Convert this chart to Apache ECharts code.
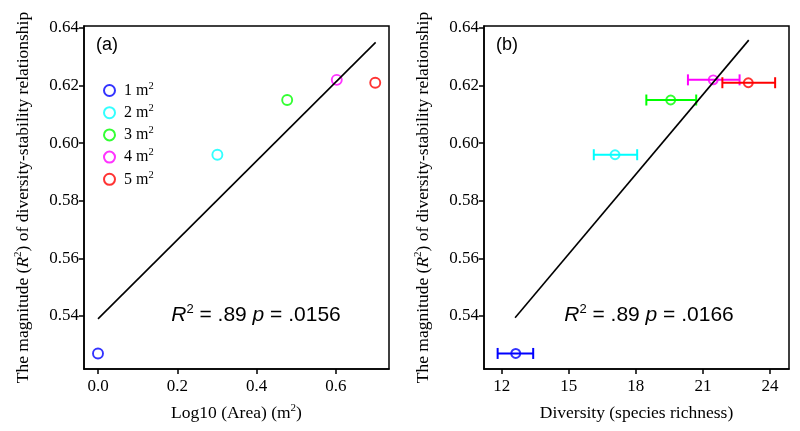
<!DOCTYPE html>
<html>
<head>
<meta charset="utf-8">
<script src="https://cdn.jsdelivr.net/npm/echarts@6/dist/echarts.min.js"></script>
<style>html,body{margin:0;padding:0;background:#fff}#c{width:800px;height:431px}</style>
</head>
<body>
<div id="c"></div>
<script>
// ---- data ----
var groupNames = ['1 m2', '2 m2', '3 m2', '4 m2', '5 m2'];
var groupColors = ['#0000ff', '#00ffff', '#00ff00', '#ff00ff', '#ff0000'];
// Panel (a): log10(area) vs R2 magnitude
var logArea = [0, 0.301, 0.477, 0.602, 0.699];
var magnitudeA = [0.527, 0.596, 0.615, 0.622, 0.621];
var fitA = [[0, 0.539], [0.7, 0.635]];
// Panel (b): diversity vs R2 magnitude
var diversity = [12.63, 17.07, 19.56, 21.46, 23.03];
var diversityLo = [11.82, 16.12, 18.47, 20.33, 21.87];
var diversityHi = [13.41, 18.06, 20.70, 22.64, 24.23];
var magnitudeB = [0.527, 0.596, 0.615, 0.622, 0.621];
var fitB = [[12.6, 0.5394], [23.05, 0.6358]];
// ticks
var xTicksA = [0, 0.2, 0.4, 0.6];
var xTicksB = [12, 15, 18, 21, 24];
var yTicks = [0.54, 0.56, 0.58, 0.60, 0.62, 0.64];
var statA = ['.89', '.0156'];
var statB = ['.89', '.0166'];

var SERIF = '"Liberation Serif", "Times New Roman", serif';
var SANS = '"Liberation Sans", Arial, sans-serif';

var chart = echarts.init(document.getElementById('c'), null, {renderer: 'canvas'});

function supRich(size) {
  return {
    a: {fontFamily: SERIF, fontSize: size, color: '#000', lineHeight: size + 4},
    i: {fontFamily: SERIF, fontSize: size, fontStyle: 'italic', color: '#000', lineHeight: size + 4},
    s: {fontFamily: SERIF, fontSize: Math.round(size * 0.62), color: '#000', verticalAlign: 'top'}
  };
}

function makeX(idx, min, max, ticks, name, fmt) {
  return {
    type: 'value', gridIndex: idx, min: min, max: max,
    name: name, nameLocation: 'middle', nameGap: 34,
    nameTextStyle: {fontFamily: SERIF, fontSize: 17.5, color: '#000', rich: supRich(17.5)},
    axisLine: {show: true, onZero: false, lineStyle: {color: '#000', width: 1.5}},
    axisTick: {show: true, customValues: ticks, length: 5, lineStyle: {color: '#000', width: 1.5}},
    axisLabel: {customValues: ticks, formatter: fmt, fontFamily: SERIF, fontSize: 17, color: '#000', margin: 9},
    splitLine: {show: false}
  };
}
function makeY(idx) {
  return {
    type: 'value', gridIndex: idx, min: 0.5216, max: 0.6407,
    name: '{a|The magnitude (}{i|R}{s|2}{a|) of diversity-stability relationship}',
    nameLocation: 'middle', nameRotate: 90, nameGap: 50,
    nameTextStyle: {fontFamily: SERIF, fontSize: 17.5, color: '#000', rich: supRich(17.5)},
    axisLine: {show: true, onZero: false, lineStyle: {color: '#000', width: 1.5}},
    axisTick: {show: true, customValues: yTicks, length: 5, lineStyle: {color: '#000', width: 1.5}},
    axisLabel: {customValues: yTicks, formatter: function (v) { return v.toFixed(2); },
      fontFamily: SERIF, fontSize: 17, color: '#000', margin: 5},
    splitLine: {show: false}
  };
}

var series = [];
groupNames.forEach(function (n, k) {
  series.push({
    type: 'scatter', name: n, xAxisIndex: 0, yAxisIndex: 0,
    data: [[logArea[k], magnitudeA[k]]],
    symbol: 'circle', symbolSize: 10, z: 3,
    itemStyle: {color: 'rgba(255,255,255,0)', borderColor: groupColors[k], borderWidth: 1.9}
  });
});
series.push({
  type: 'line', xAxisIndex: 0, yAxisIndex: 0, data: fitA, symbol: 'none', z: 5,
  lineStyle: {color: '#000', width: 1.6}, silent: true
});
// error bars for panel (b)
var errData = diversity.map(function (d, k) { return [diversityLo[k], diversityHi[k], magnitudeB[k], k]; });
series.push({
  type: 'custom', xAxisIndex: 1, yAxisIndex: 1, data: errData, z: 2,
  encode: {x: [0, 1], y: 2},
  renderItem: function (params, api) {
    var lo = api.coord([api.value(0), api.value(2)]);
    var hi = api.coord([api.value(1), api.value(2)]);
    var c = groupColors[api.value(3)];
    var h = 5.5;
    var st = {stroke: c, lineWidth: 2};
    return {type: 'group', children: [
      {type: 'line', shape: {x1: lo[0], y1: lo[1], x2: hi[0], y2: hi[1]}, style: st},
      {type: 'line', shape: {x1: lo[0], y1: lo[1] - h, x2: lo[0], y2: lo[1] + h}, style: st},
      {type: 'line', shape: {x1: hi[0], y1: hi[1] - h, x2: hi[0], y2: hi[1] + h}, style: st}
    ]};
  }
});
groupNames.forEach(function (n, k) {
  series.push({
    type: 'scatter', name: n, xAxisIndex: 1, yAxisIndex: 1,
    data: [[diversity[k], magnitudeB[k]]],
    symbol: 'circle', symbolSize: 9, z: 3,
    itemStyle: {color: 'rgba(255,255,255,0)', borderColor: groupColors[k], borderWidth: 1.9}
  });
});
series.push({
  type: 'line', xAxisIndex: 1, yAxisIndex: 1, data: fitB, symbol: 'none', z: 5,
  lineStyle: {color: '#000', width: 1.6}, silent: true
});

function statText(v) {
  return '{i|R}{s|2}{a| = ' + v[0] + ' }{i|p}{a| = ' + v[1] + '}';
}
var statRich = {
  a: {fontFamily: SANS, fontSize: 21, color: '#000', lineHeight: 25},
  i: {fontFamily: SANS, fontSize: 21, fontStyle: 'italic', color: '#000', lineHeight: 25},
  s: {fontFamily: SANS, fontSize: 13, color: '#000', verticalAlign: 'top'}
};

chart.setOption({
  animation: false,
  backgroundColor: '#fff',
  grid: [
    {left: 84, top: 26, width: 305, height: 343, show: true, borderColor: '#000', borderWidth: 1.5, backgroundColor: 'transparent'},
    {left: 484, top: 26, width: 305, height: 343, show: true, borderColor: '#000', borderWidth: 1.5, backgroundColor: 'transparent'}
  ],
  xAxis: [
    makeX(0, -0.0353, 0.7337, xTicksA, '{a|Log10 (Area) (m}{s|2}{a|)}', function (v) { return v.toFixed(1); }),
    makeX(1, 11.21, 24.85, xTicksB, '{a|Diversity (species richness)}', function (v) { return String(Math.round(v)); })
  ],
  yAxis: [makeY(0), makeY(1)],
  legend: {
    left: 98, top: 75.5, orient: 'vertical', itemWidth: 11, itemHeight: 11, itemGap: 4.2,
    icon: 'circle', selectedMode: false,
    data: groupNames,
    formatter: function (n) { return '{a|' + n.replace('m2', 'm') + '}{s|2}'; },
    textStyle: {
      rich: {
        a: {fontFamily: SERIF, fontSize: 16, color: '#000', lineHeight: 20, padding: [0, 0, 0, 4]},
        s: {fontFamily: SERIF, fontSize: 10.5, color: '#000', verticalAlign: 'top'}
      }
    }
  },
  graphic: [
    {type: 'text', left: 96, top: 36, style: {text: '(a)', font: '18px ' + SANS, fill: '#000'}},
    {type: 'text', left: 496, top: 36, style: {text: '(b)', font: '18px ' + SANS, fill: '#000'}},
    {type: 'text', x: 256, y: 315, style: {text: statText(statA), rich: statRich, align: 'center', verticalAlign: 'middle'}},
    {type: 'text', x: 649, y: 315, style: {text: statText(statB), rich: statRich, align: 'center', verticalAlign: 'middle'}}
  ],
  series: series
});
</script>
</body>
</html>
